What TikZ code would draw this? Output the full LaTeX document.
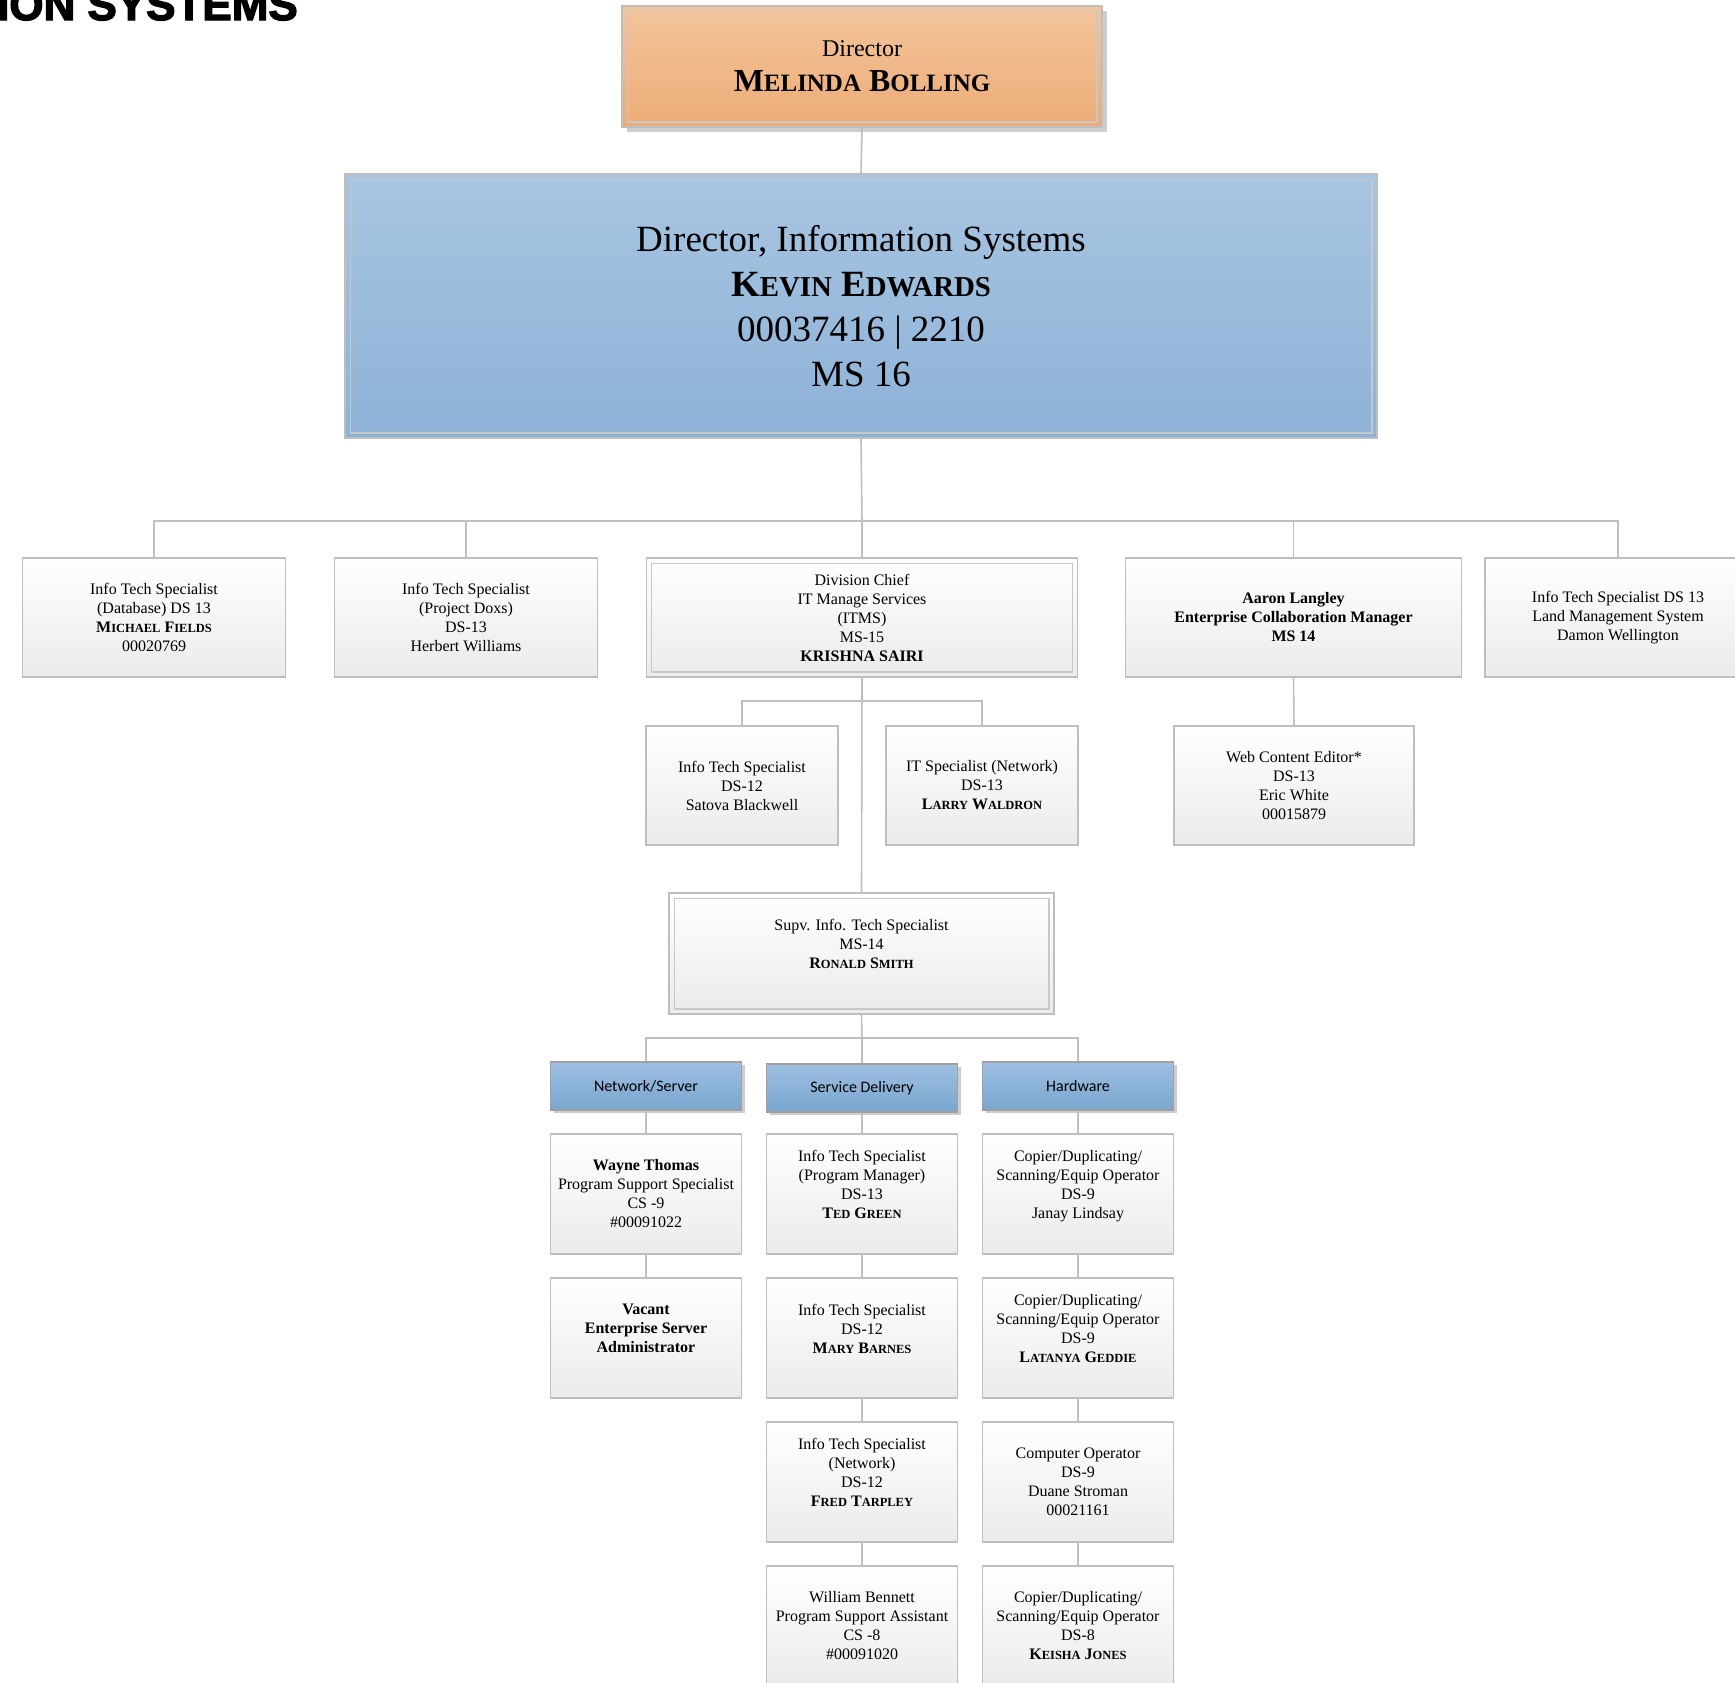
\documentclass[tikz,border=0pt]{standalone}
\usepackage{fontspec}
\setmainfont{Liberation Serif}
\newfontfamily\hdrfont{Carlito}
\newfontfamily\titlefont{Liberation Sans}[FakeBold=3]
\usetikzlibrary{shadows}

% reduced capitals for name lines
\newcommand\smcp[1]{\scalebox{0.78}{#1}}

\definecolor{connGray}{RGB}{191,191,191}
\definecolor{boxGray}{RGB}{190,190,190}
\definecolor{boxBot}{RGB}{235,235,235}
\definecolor{dirTop}{RGB}{243,196,156}
\definecolor{dirBot}{RGB}{237,172,118}
\definecolor{bigTop}{RGB}{168,197,225}
\definecolor{bigBot}{RGB}{141,178,215}
\definecolor{hdrTop}{RGB}{158,191,225}
\definecolor{hdrBot}{RGB}{121,166,208}
\definecolor{hdrLine}{RGB}{160,160,160}
\definecolor{shadowGray}{RGB}{205,205,205}
\definecolor{innerLine}{RGB}{200,200,200}

\tikzset{
  conn/.style={draw=connGray, line width=1.6pt},
  gbox/.style={draw=boxGray, line width=1.6pt, top color=white, bottom color=boxBot,
    align=center, inner sep=0pt, minimum height=119pt,
    font=\fontsize{16}{19}\selectfont},
  rowbox/.style={gbox, minimum width=191pt, minimum height=120pt},
  hdrbox/.style={draw=hdrLine, line width=1.2pt, top color=hdrTop, bottom color=hdrBot,
    minimum width=191pt, minimum height=48pt, inner sep=0pt,
    font=\hdrfont\fontsize{16}{19}\selectfont,
    general shadow={fill=shadowGray, shadow xshift=3pt, shadow yshift=-3pt}},
  innerbox/.style={draw=innerLine, line width=1.4pt},
}

\begin{document}
\begin{tikzpicture}[x=1pt, y=-1pt]
\useasboundingbox (0,0) rectangle (1735,1682);

% page heading, running off the sheet
\node[anchor=base east, inner sep=0pt, font=\titlefont\bfseries\fontsize{44}{44}\selectfont] (title) at (298,20) {ION SYSTEMS};

% ---- top of the chart
\node[draw=boxGray, line width=1.6pt, top color=dirTop, bottom color=dirBot,
  minimum width=480pt, minimum height=121pt, inner sep=0pt, align=center,
  general shadow={fill=shadowGray, shadow xshift=5pt, shadow yshift=-5pt}] (dir) at (862,66.5)
  {{\fontsize{24}{28}\selectfont Director}\\[13pt]
   {\bfseries\fontsize{32}{34}\selectfont M\smcp{ELINDA} B\smcp{OLLING}}};

\node[draw=boxGray, line width=1.6pt, top color=bigTop, bottom color=bigBot,
  minimum width=1032pt, minimum height=264pt, inner sep=0pt, align=center,
  font=\fontsize{37}{45}\selectfont] (big) at (861,306)
  {Director, Information Systems\\
   \textbf{K\smcp{EVIN} E\smcp{DWARDS}}\\
   00037416 | 2210\\
   MS 16};

% ---- second level
\node[gbox, minimum width=263pt] (fields) at (154,617.5)
  {Info Tech Specialist\\(Database) DS 13\\\textbf{M\smcp{ICHAEL} F\smcp{IELDS}}\\00020769};
\node[gbox, minimum width=263pt] (williams) at (466,617.5)
  {Info Tech Specialist\\(Project Doxs)\\DS-13\\Herbert Williams};
\node[gbox, minimum width=431pt] (div) at (862,617.5)
  {Division Chief\\IT Manage Services\\(ITMS)\\MS-15\\\textbf{KRISHNA SAIRI}};
\node[gbox, minimum width=336pt] (langley) at (1293.5,617.5)
  {\textbf{Aaron Langley}\\\textbf{Enterprise Collaboration Manager}\\\textbf{MS 14}};
\node[gbox, minimum width=266pt] (wellington) at (1618,617.5)
  {Info Tech Specialist DS 13\\Land Management System\\Damon Wellington};

% ---- third level
\node[gbox, minimum width=192pt] (blackwell) at (742,785.5)
  {Info Tech Specialist\\DS-12\\Satova Blackwell};
\node[gbox, minimum width=192pt] (waldron) at (982,785.5)
  {IT Specialist (Network)\\DS-13\\\textbf{L\smcp{ARRY} W\smcp{ALDRON}}};
\node[gbox, minimum width=240pt] (white) at (1294,785.5)
  {Web Content Editor*\\DS-13\\Eric White\\00015879};

\node[gbox, minimum width=385pt, minimum height=121pt] (smith) at (861.5,953.5)
  {Supv. Info. Tech Specialist\\MS-14\\\textbf{R\smcp{ONALD} S\smcp{MITH}}\\\mbox{}};

% ---- team headings
\node[hdrbox] (net) at (646,1086) {Network/Server};
\node[hdrbox] (svc) at (862,1088) {Service Delivery};
\node[hdrbox] (hw) at (1078,1086) {Hardware};

% ---- Network/Server column
\node[rowbox] (thomas) at (646,1194)
  {\textbf{Wayne Thomas}\\Program Support Specialist\\CS -9\\\#00091022};
\node[rowbox] (vacant) at (646,1338)
  {\textbf{Vacant}\\\textbf{Enterprise Server}\\\textbf{Administrator}\\\mbox{}};

% ---- Service Delivery column
\node[rowbox] (green) at (862,1194)
  {Info Tech Specialist\\(Program Manager)\\DS-13\\\textbf{T\smcp{ED} G\smcp{REEN}}\\\mbox{}};
\node[rowbox] (barnes) at (862,1338)
  {Info Tech Specialist\\DS-12\\\textbf{M\smcp{ARY} B\smcp{ARNES}}\\\mbox{}};
\node[rowbox] (tarpley) at (862,1482)
  {Info Tech Specialist\\(Network)\\DS-12\\\textbf{F\smcp{RED} T\smcp{ARPLEY}}\\\mbox{}};
\node[rowbox] (bennett) at (862,1626)
  {William Bennett\\Program Support Assistant\\CS -8\\\#00091020};

% ---- Hardware column
\node[rowbox] (lindsay) at (1078,1194)
  {Copier/Duplicating/\\Scanning/Equip Operator\\DS-9\\Janay Lindsay\\\mbox{}};
\node[rowbox] (geddie) at (1078,1338)
  {Copier/Duplicating/\\Scanning/Equip Operator\\DS-9\\\textbf{L\smcp{ATANYA} G\smcp{EDDIE}}\\\mbox{}};
\node[rowbox] (stroman) at (1078,1482)
  {Computer Operator\\DS-9\\Duane Stroman\\00021161};
\node[rowbox] (jones) at (1078,1626)
  {Copier/Duplicating/\\Scanning/Equip Operator\\DS-8\\\textbf{K\smcp{EISHA} J\smcp{ONES}}};

% ---- inner rules of the framed boxes
\foreach \n in {dir,big,div,smith}
  \draw[innerbox] ([xshift=6pt,yshift=-6pt]\n.north west) rectangle ([xshift=-6pt,yshift=6pt]\n.south east);

% ---- connectors
\coordinate (busA) at (862,521);
\coordinate (busB) at (862,701);
\coordinate (busC) at (862,1038);

\draw[conn] (dir.south) -- (big.north);
\draw[conn] (big.south) -- (busA);
\draw[conn] (busA) -| (fields.north);
\draw[conn] (busA) -| (williams.north);
\draw[conn] (busA) -- (div.north);
\draw[conn] (busA) -| (langley.north);
\draw[conn] (busA) -| (wellington.north);

\draw[conn] (langley.south) -- (white.north);

\draw[conn] (div.south) -- (smith.north);
\draw[conn] (busB) -| (blackwell.north);
\draw[conn] (busB) -| (waldron.north);

\draw[conn] (smith.south) -- (busC);
\draw[conn] (busC) -| (net.north);
\draw[conn] (busC) -- (svc.north);
\draw[conn] (busC) -| (hw.north);

\draw[conn] (net.south) -- (thomas.north);
\draw[conn] (thomas.south) -- (vacant.north);

\draw[conn] (svc.south) -- (green.north);
\draw[conn] (green.south) -- (barnes.north);
\draw[conn] (barnes.south) -- (tarpley.north);
\draw[conn] (tarpley.south) -- (bennett.north);

\draw[conn] (hw.south) -- (lindsay.north);
\draw[conn] (lindsay.south) -- (geddie.north);
\draw[conn] (geddie.south) -- (stroman.north);
\draw[conn] (stroman.south) -- (jones.north);
\end{tikzpicture}
\end{document}
